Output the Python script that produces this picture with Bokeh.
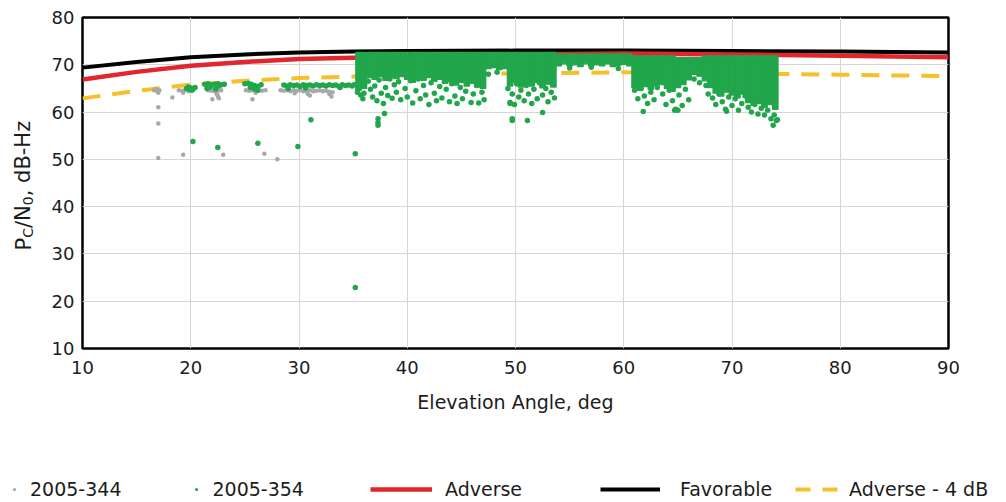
from bokeh.plotting import figure
from bokeh.models import Legend, LegendItem, Label, FixedTicker
from bokeh.layouts import row, column
from bokeh.embed import file_html
from bokeh.resources import INLINE

# ---------------- data ----------------
elev = [10, 15, 20, 25, 30, 35, 40, 50, 60, 70, 80, 90]
favorable = [69.4, 70.6, 71.6, 72.2, 72.6, 72.8, 72.9, 73.0, 73.0, 72.9, 72.8, 72.6]
adverse = [66.9, 68.5, 69.8, 70.6, 71.2, 71.5, 71.8, 72.2, 72.4, 72.2, 71.9, 71.6]
adverse_4db = [62.9, 64.5, 65.8, 66.6, 67.2, 67.5, 67.8, 68.2, 68.4, 68.2, 67.9, 67.6]

band_x = [35.5, 36.0, 36.5, 37.0, 37.5, 38.0, 38.5, 39.0, 39.5, 40.0,
          40.5, 41.0, 41.5, 42.0, 42.5, 43.0, 43.5, 44.0, 44.5, 45.0,
          45.5, 46.0, 46.5, 47.0, 47.5, 48.0, 48.5, 49.0, 49.5, 50.0,
          50.5, 51.0, 51.5, 52.0, 52.5, 53.0, 53.5, 54.0, 54.5, 55.0,
          55.5, 56.0, 56.5, 57.0, 57.5, 58.0, 58.5, 59.0, 59.5, 60.0,
          60.5, 61.0, 61.5, 62.0, 62.5, 63.0, 63.5, 64.0, 64.5, 65.0,
          65.5, 66.0, 66.5, 67.0, 67.5, 68.0, 68.5, 69.0, 69.5, 70.0,
          70.5, 71.0, 71.5, 72.0, 72.5, 73.0, 73.5, 74.0]
band_low = [64.6, 65.0, 67.3, 66.9, 67.5, 66.7, 67.3, 67.1, 67.5, 66.9,
            66.3, 67.1, 66.7, 67.3, 66.5, 66.9, 66.1, 66.5, 65.7, 66.3,
            65.5, 66.1, 65.3, 65.0, 69.2, 69.4, 69.0, 69.2, 65.5, 66.3,
            65.3, 66.1, 65.5, 66.3, 65.1, 65.9, 65.3, 69.8, 70.2, 69.8,
            70.0, 69.6, 70.2, 69.8, 70.0, 69.8, 70.2, 69.6, 69.9, 70.1,
            69.8, 65.2, 64.6, 65.4, 64.8, 65.6, 65.8, 65.0, 64.4, 65.2,
            65.8, 66.8, 68.0, 67.6, 66.6, 65.2, 64.0, 63.4, 64.2, 63.6,
            63.0, 63.8, 62.0, 61.4, 61.8, 61.0, 61.6, 60.6]
band_top = [72.6, 72.6, 72.6, 72.6, 72.6, 72.6, 72.6, 72.6, 72.6, 72.6,
            72.6, 72.6, 72.6, 72.6, 72.6, 72.6, 72.6, 72.6, 72.6, 72.6,
            72.6, 72.6, 72.6, 72.6, 72.6, 72.6, 72.6, 72.6, 72.6, 72.6,
            72.6, 72.6, 72.6, 72.6, 72.6, 72.6, 72.6, 72.3, 72.3, 72.3,
            72.3, 72.3, 72.3, 72.3, 72.3, 72.3, 72.3, 72.3, 72.3, 72.3,
            72.3, 71.9, 71.9, 71.9, 71.9, 71.9, 71.9, 71.9, 71.9, 71.5,
            71.5, 71.5, 71.5, 71.5, 71.9, 71.9, 71.9, 71.9, 71.9, 71.9,
            71.9, 71.9, 71.9, 71.9, 71.9, 71.9, 71.9, 71.9]

d354_x = [19.6, 19.8, 20.0, 20.2, 20.4, 20.1, 19.9,
          21.3, 21.5, 21.6, 21.9, 22.2, 22.5, 22.8, 23.1, 21.8, 22.6, 22.3,
          25.0, 25.3, 25.6, 25.9, 26.2, 26.5, 25.9, 26.2, 25.5,
          28.6, 28.9, 29.2, 29.5, 29.8, 30.1, 30.4, 30.7, 31.0, 31.3, 31.6, 31.9,
          32.2, 32.5, 32.8, 33.1, 33.4, 33.7, 34.0, 34.3, 34.6, 34.9, 35.1,
          29.0, 30.6, 33.8,
          20.2, 22.5, 26.2, 29.9, 35.2, 35.2, 31.1,
          35.4, 35.7, 36.0, 35.9,
          36.4, 36.6, 36.8, 37.0, 37.2, 37.4, 37.6, 37.8, 38.0, 38.2, 38.4, 38.6,
          38.8, 39.0, 39.2, 39.4,
          37.3, 37.3, 37.3, 37.9,
          39.8, 40.0, 40.3, 40.5, 40.8, 41.0, 41.2, 41.5, 41.7, 42.0, 42.2, 42.5,
          42.7, 43.0, 43.2,
          43.6, 43.9, 44.1, 44.4, 44.6, 44.9, 45.1, 45.4, 45.6, 45.9, 46.1, 46.4,
          46.6, 46.9, 47.1,
          47.5, 48.3,
          49.3, 49.5, 49.7, 49.9, 50.1, 50.3, 50.5, 50.8, 51.0, 51.2, 51.5, 51.7,
          52.0, 52.2, 52.5, 52.8, 53.0, 53.3, 53.6,
          49.7, 49.7, 51.1, 52.5, 49.5,
          55.0, 57.0, 59.5,
          61.0, 61.3, 61.6, 61.9, 62.2, 62.5, 62.8, 63.1, 61.8,
          63.6, 63.9, 64.2, 64.5, 64.8, 65.1, 65.4, 65.7, 66.0, 64.7, 65.0,
          66.5, 67.0, 67.6, 67.8,
          68.2, 68.5, 68.8, 69.1, 69.4, 69.7, 70.0, 70.3, 70.6, 70.9, 71.2, 69.5,
          71.5, 71.8, 72.1, 72.4, 72.7, 73.0, 73.3, 73.6, 73.9, 74.1, 73.8, 74.2]
d354_y = [65.0, 65.3, 65.1, 64.9, 65.2, 64.6, 64.8,
          65.9, 65.0, 66.0, 65.8, 65.9, 66.0, 65.8, 65.9, 65.3, 65.5, 64.9,
          66.0, 66.1, 65.9, 65.6, 65.4, 65.8, 64.9, 64.6, 65.2,
          65.7, 65.5, 65.8, 65.6, 65.7, 65.4, 65.8, 65.6, 65.7, 65.5, 65.8, 65.6,
          65.7, 65.5, 65.8, 65.6, 65.7, 65.4, 65.8, 65.6, 65.7, 65.5, 65.8,
          65.0, 65.1, 65.2,
          53.8, 52.5, 53.4, 52.7, 51.2, 22.9, 58.4,
          64.2, 63.6, 64.0, 62.8,
          66.5, 64.8, 63.2, 65.5, 62.4, 66.8, 64.0, 61.8, 65.2, 63.5, 67.0, 62.9,
          65.8, 64.2, 66.4, 62.6,
          58.6, 57.8, 57.2, 59.7,
          65.0, 63.2, 66.6, 61.9, 64.5, 67.0, 62.8, 65.6, 63.6, 61.6, 66.2, 64.0,
          62.4, 65.4, 63.0,
          64.8, 62.2, 66.0, 63.4, 61.8, 65.2, 62.8, 64.4, 66.4, 62.0, 63.8, 65.6,
          61.9, 64.2, 62.6,
          68.0, 68.4,
          65.0, 62.0, 63.8, 61.6, 66.0, 63.2, 64.6, 62.4, 65.6, 63.8, 61.8, 64.8,
          62.8, 66.2, 63.6, 65.0, 62.2, 64.2, 63.0,
          58.6, 58.2, 58.2, 59.9, 61.8,
          69.3, 69.5, 69.2,
          64.6, 62.8, 65.0, 63.4, 61.8, 64.2, 62.6, 65.2, 60.1,
          63.8, 61.6, 64.6, 62.4, 60.6, 63.6, 61.4, 64.8, 62.6, 60.4, 60.4,
          67.0, 66.2, 65.6, 63.8,
          63.0, 61.6, 63.8, 62.2, 60.6, 63.2, 61.4, 62.8, 60.4, 61.8, 63.4, 60.2,
          61.0, 60.0, 61.6, 59.6, 60.8, 59.4, 60.4, 58.6, 59.4, 58.2, 57.2, 58.4]

d344_x = [16.6, 16.9, 17.1, 16.8, 17.0,
          17.0, 17.0, 17.0, 19.3, 23.0, 26.8, 28.0, 18.3, 22.0, 22.6, 25.7,
          18.9, 19.2, 19.5, 19.8, 19.3,
          21.6, 21.9, 22.2, 22.5, 22.8, 22.4, 22.5,
          25.1, 25.4, 25.7, 26.0, 26.3, 26.6, 26.9, 26.0,
          28.3, 28.6, 28.9, 29.2, 29.5, 29.8, 30.1, 30.4, 30.7, 31.0, 31.3, 31.6,
          31.9, 32.2, 32.5, 32.8, 33.1, 30.8, 31.0, 32.8, 33.0, 29.6]
d344_y = [64.6, 64.4, 64.6, 64.9, 64.1,
          61.0, 57.6, 50.3, 51.0, 51.0, 51.2, 50.0, 63.1, 62.7, 62.9, 62.7,
          64.6, 64.5, 64.6, 64.4, 64.1,
          64.6, 64.5, 64.4, 64.5, 64.6, 63.8, 63.4,
          64.6, 64.5, 64.6, 64.5, 64.6, 64.5, 64.6, 64.1,
          64.6, 64.5, 64.6, 64.4, 64.6, 64.5, 64.6, 64.4, 64.5, 64.6, 64.4, 64.5,
          64.6, 64.4, 64.5, 64.3, 64.2, 63.9, 63.5, 63.8, 63.3, 64.0]

x_ticks = [10, 20, 30, 40, 50, 60, 70, 80, 90]
y_ticks = [10, 20, 30, 40, 50, 60, 70, 80]

# ---------------- style ----------------
GREEN = "#21a64b"
GRAY = "#a8a8a8"
RED = "#e1262d"
YELLOW = "#f5c02a"
TXT = "#1c1c1c"
FONT = "DejaVu Sans"

# ---------------- main chart ----------------
p = figure(width=961, height=460, x_range=(10, 90), y_range=(10, 80),
           output_backend="svg", toolbar_location=None,
           min_border_left=37, min_border_right=58, min_border_top=17,
           min_border_bottom=112)
p.background_fill_color = "white"
p.border_fill_color = "white"
p.outline_line_color = "black"
p.outline_line_width = 2.5

p.xgrid.ticker = FixedTicker(ticks=x_ticks[1:-1])
p.ygrid.ticker = FixedTicker(ticks=y_ticks[1:-1])
p.grid.grid_line_color = "#d6d6d6"
p.grid.grid_line_width = 1

p.xaxis.ticker = FixedTicker(ticks=x_ticks)
p.yaxis.ticker = FixedTicker(ticks=y_ticks)
for ax in (p.xaxis[0], p.yaxis[0]):
    ax.axis_line_color = None
    ax.major_tick_line_color = None
    ax.minor_tick_line_color = None
    ax.major_tick_out = 0
    ax.major_tick_in = 0
    ax.minor_tick_out = 0
    ax.minor_tick_in = 0
    ax.major_label_text_font = FONT
    ax.major_label_text_font_size = "18px"
    ax.major_label_text_color = TXT
p.xaxis.major_label_standoff = 12
p.yaxis.major_label_standoff = 8
p.xaxis.axis_label = "Elevation Angle, deg"
p.xaxis.axis_label_text_font = FONT
p.xaxis.axis_label_text_font_size = "19px"
p.xaxis.axis_label_text_font_style = "normal"
p.xaxis.axis_label_text_color = TXT
p.xaxis.axis_label_standoff = 14

p.line(elev, favorable, line_color="black", line_width=4)
p.line(elev, adverse, line_color=RED, line_width=4.5)
p.line(elev, adverse_4db, line_color=YELLOW, line_width=4, line_dash="18 12")

p.scatter(d344_x, d344_y, size=4.5, color=GRAY, line_color=None)
p.vbar(x=band_x, width=0.5, bottom=band_low, top=band_top,
       fill_color=GREEN, line_color=GREEN, line_width=1.3)
p.scatter(d354_x, d354_y, size=5.5, color=GREEN, line_color=None)

# ---------------- y-axis title panel (with subscripts) ----------------
# this panel's frame is aligned with the chart frame (331 px tall)
ylab = figure(width=45, height=460, x_range=(0, 45), y_range=(0, 331),
              output_backend="svg", toolbar_location=None,
              x_axis_type=None, y_axis_type=None, min_border=0)
ylab.outline_line_color = None
ylab.background_fill_color = "white"
ylab.border_fill_color = "white"
ylab.grid.visible = False
pieces = [("P", 21, 23, 98), ("C", 14, 27, 110.7), ("/N", 21, 23, 120.5),
          ("0", 14, 27, 143.3), (", dB-Hz", 21, 23, 152.2)]
for txt, fs, xx, yy in pieces:
    ylab.add_layout(Label(x=xx, y=yy, text=txt, angle=1.5708,
                          text_font=FONT, text_font_size=f"{fs}px", text_color=TXT,
                          text_align="left", text_baseline="alphabetic"))

# ---------------- legend panel ----------------
# off-range y window: the series only feed the legend glyphs here
lf = figure(width=1006, height=42, x_range=(0, 1006), y_range=(100, 142),
            output_backend="svg", toolbar_location=None,
            x_axis_type=None, y_axis_type=None, min_border=0)
lf.outline_line_color = None
lf.grid.visible = False
g344 = lf.scatter(d344_x, d344_y, color=GRAY, line_color=None)
g354 = lf.scatter(d354_x, d354_y, color=GREEN, line_color=None)
g_adv = lf.line(elev, adverse, line_color=RED, line_width=4.5)
g_fav = lf.line(elev, favorable, line_color="black", line_width=4)
g_adv4 = lf.line(elev, adverse_4db, line_color=YELLOW, line_width=4, line_dash="15 12")


def make_legend(items, loc, gw, standoff, spacing=0):
    lg = Legend(items=items, orientation="horizontal", location=loc,
                glyph_width=gw, glyph_height=20, label_height=20, label_standoff=standoff,
                spacing=spacing, padding=0, margin=0, border_line_color=None,
                background_fill_alpha=0, label_text_font=FONT,
                label_text_font_size="19px", label_text_color=TXT)
    lf.add_layout(lg)


make_legend([LegendItem(label="2005-344", renderers=[g344]),
             LegendItem(label="2005-354", renderers=[g354])], (10, 2), 8, 12, 71)
make_legend([LegendItem(label="Adverse", renderers=[g_adv])], (370, 2), 62, 13)
make_legend([LegendItem(label="Favorable", renderers=[g_fav])], (600, 2), 60, 20)
make_legend([LegendItem(label="Adverse - 4 dB", renderers=[g_adv4])], (795, 2), 44, 10)

layout = column(row(ylab, p), lf)
open("out.html", "w").write(file_html(layout, INLINE))
